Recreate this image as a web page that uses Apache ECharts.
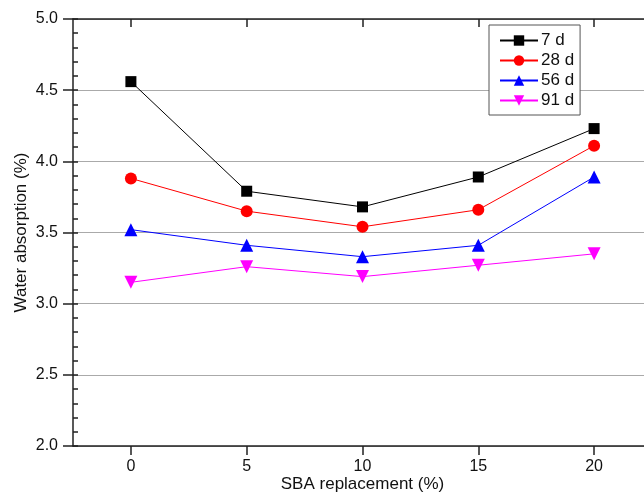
<!DOCTYPE html>
<html>
<head>
<meta charset="utf-8">
<script src="https://cdn.jsdelivr.net/npm/echarts@6/dist/echarts.min.js"></script>
<style>
html,body{margin:0;padding:0;background:#fff;}
#chart{width:644px;height:493px;}
</style>
</head>
<body>
<div id="chart"></div>
<script>
var categories = [0, 5, 10, 15, 20];
var seriesNames = ['7 d', '28 d', '56 d', '91 d'];
var d7  = [4.56, 3.79, 3.68, 3.89, 4.23];
var d28 = [3.88, 3.65, 3.54, 3.66, 4.11];
var d56 = [3.52, 3.41, 3.33, 3.41, 3.89];
var d91 = [3.15, 3.26, 3.19, 3.27, 3.35];
var yTicks = [2.0, 2.5, 3.0, 3.5, 4.0, 4.5, 5.0];

var FONT = '"Liberation Sans", Arial, sans-serif';
function pairs(v){ return categories.map(function(c,i){ return [c, v[i]]; }); }

var chart = echarts.init(document.getElementById('chart'), null, {renderer:'canvas'});
var styles = [
  {color:'#000000', symbol:'rect', size:11, rotate:0},
  {color:'#ff0000', symbol:'circle', size:12, rotate:0},
  {color:'#0000ff', symbol:'triangle', size:13, rotate:0},
  {color:'#ff00ff', symbol:'triangle', size:13, rotate:180}
];
var data = [d7, d28, d56, d91];
var series = data.map(function(v, i){
  var s = styles[i];
  return {
    name: seriesNames[i], type:'line', data: pairs(v),
    symbol: s.symbol, symbolSize: s.size, symbolRotate: s.rotate,
    lineStyle:{color:s.color, width:1},
    itemStyle:{color:s.color},
    z: 10 - i
  };
});

chart.setOption({
  animation:false,
  backgroundColor:'#fff',
  grid:{left:73, top:19, width:579, height:427, outerBoundsMode:'none', containLabel:false},
  legend:{
    orient:'vertical', left:489, top:25,
    data: seriesNames,
    backgroundColor:'#fff',
    borderColor:'#555', borderWidth:1,
    padding:[7,6,6,10],
    itemGap:3, itemWidth:38, itemHeight:13,
    textStyle:{fontFamily:FONT, fontSize:17, color:'#111', padding:[0,0,0,-2]}
  },
  xAxis:[{
    type:'value', min:-2.5, max:22.5,
    name:'SBA replacement (%)', nameLocation:'middle', nameGap:30, nameMoveOverlap:false,
    nameTextStyle:{fontFamily:FONT, fontSize:17, color:'#111'},
    axisLine:{show:true, onZero:false, lineStyle:{color:'#222', width:1.5}},
    axisTick:{show:true, inside:false, length:9, customValues:categories, lineStyle:{color:'#222', width:1.5}},
    axisLabel:{customValues:categories, fontFamily:FONT, fontSize:16, color:'#111', margin:13},
    splitLine:{show:false}
  },{
    type:'value', min:-2.5, max:22.5, position:'top',
    axisLine:{show:true, onZero:false, lineStyle:{color:'#222', width:1.5}},
    axisTick:{show:true, inside:true, length:8, customValues:categories, lineStyle:{color:'#222', width:1.5}},
    axisLabel:{show:false},
    splitLine:{show:false}
  }],
  yAxis:[{
    type:'value', min:2, max:5, interval:0.5,
    name:'Water absorption (%)', nameLocation:'middle', nameGap:43, nameMoveOverlap:false,
    nameTextStyle:{fontFamily:FONT, fontSize:17, color:'#111'},
    axisLine:{show:true, onZero:false, lineStyle:{color:'#222', width:1.5}},
    axisTick:{show:true, inside:false, length:10, lineStyle:{color:'#222', width:1.5}},
    axisLabel:{fontFamily:FONT, fontSize:16, color:'#111', margin:15,
      formatter:function(v){ return v.toFixed(1); }},
    splitLine:{show:true, lineStyle:{color:'#aaa', width:1}}
  },{
    type:'value', min:2, max:5, interval:0.5, position:'left', offset:0,
    axisLine:{show:false, onZero:false},
    axisTick:{show:true, inside:true, length:5, lineStyle:{color:'#222', width:1.5}},
    minorTick:{show:true, splitNumber:5, length:5, lineStyle:{color:'#222', width:1.5}},
    axisLabel:{show:false},
    splitLine:{show:false}
  }],
  series: series
});
</script>
</body>
</html>
